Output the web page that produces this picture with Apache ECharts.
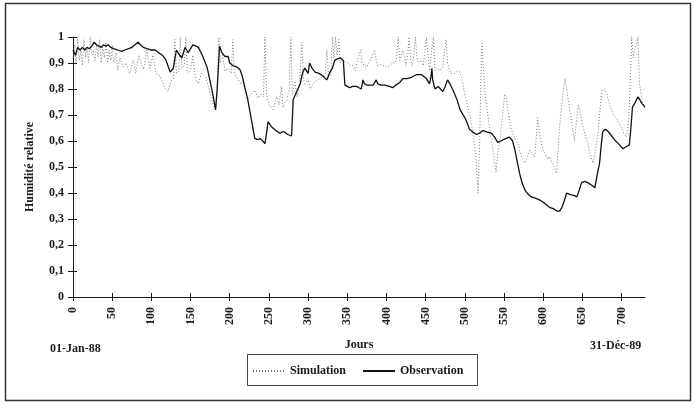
<!DOCTYPE html>
<html>
<head>
<meta charset="utf-8">
<script src="https://cdn.jsdelivr.net/npm/echarts@6/dist/echarts.min.js"></script>
<style>
  html, body { margin: 0; padding: 0; background: #fff; }
  #chart { width: 695px; height: 408px; }
</style>
</head>
<body>
<div id="chart"></div>
<script>
// jours de tick sur l'axe x
var xTicks = [0, 50, 100, 150, 200, 250, 300, 350, 400, 450, 500, 550, 600, 650, 700];

// Observation (trait plein)
var obsDays = [
  0, 3, 6, 9, 12, 15, 18, 21, 24, 27,
  30, 33, 36, 39, 42, 45, 48, 52, 57, 62,
  66, 71, 75, 79, 83, 86, 90, 94, 100, 105,
  109, 114, 118, 120, 124, 128, 132, 136, 139, 143,
  147, 150, 153, 157, 160, 165, 171, 175, 179, 182,
  184, 187, 190, 194, 198, 200, 204, 209, 213, 216,
  219, 223, 226, 229, 232, 236, 239, 242, 245, 247,
  249, 252, 255, 259, 264, 267, 270, 274, 279, 281,
  284, 287, 290, 292, 294, 296, 298, 300, 302, 305,
  309, 314, 319, 324, 326, 328, 331, 334, 337, 341,
  345, 347, 350, 353, 357, 362, 365, 368, 370, 372,
  375, 379, 383, 385, 387, 389, 393, 398, 404, 408,
  412, 417, 421, 426, 432, 438, 445, 451, 455, 457,
  458, 459, 462, 466, 469, 472, 475, 478, 481, 485,
  490, 494, 500, 503, 506, 510, 515, 519, 523, 528,
  534, 538, 542, 546, 549, 553, 557, 561, 564, 567,
  570, 573, 577, 581, 585, 590, 596, 602, 608, 613,
  618, 621, 624, 627, 630, 634, 640, 643, 646, 649,
  653, 657, 662, 666, 669, 672, 674, 676, 679, 682,
  686, 691, 696, 702, 707, 710, 712, 714, 717, 721,
  724, 726, 730
];
var obsValues = [
  0.95, 0.93, 0.96, 0.95, 0.96, 0.95, 0.96, 0.955, 0.965, 0.98,
  0.97, 0.965, 0.96, 0.97, 0.965, 0.97, 0.96, 0.955, 0.95, 0.945,
  0.95, 0.955, 0.96, 0.97, 0.98, 0.97, 0.96, 0.955, 0.95, 0.95,
  0.94, 0.93, 0.915, 0.9, 0.865, 0.88, 0.95, 0.93, 0.92, 0.96,
  0.94, 0.955, 0.97, 0.965, 0.96, 0.93, 0.885, 0.83, 0.77, 0.72,
  0.8, 0.965, 0.94, 0.925, 0.925, 0.9, 0.89, 0.885, 0.875, 0.85,
  0.81, 0.76, 0.71, 0.66, 0.61, 0.605, 0.61, 0.6, 0.59, 0.63,
  0.675, 0.66, 0.65, 0.64, 0.63, 0.635, 0.635, 0.625, 0.62, 0.76,
  0.78, 0.8, 0.82, 0.85, 0.87, 0.88, 0.87, 0.86, 0.9, 0.88,
  0.865, 0.86, 0.85, 0.835, 0.85, 0.865, 0.88, 0.91, 0.915, 0.92,
  0.91, 0.815, 0.81, 0.805, 0.81, 0.81, 0.805, 0.8, 0.835, 0.82,
  0.815, 0.815, 0.815, 0.82, 0.835, 0.82, 0.815, 0.815, 0.81, 0.805,
  0.815, 0.825, 0.84, 0.84, 0.845, 0.855, 0.855, 0.84, 0.82, 0.85,
  0.88, 0.835, 0.8, 0.81, 0.8, 0.79, 0.81, 0.835, 0.82, 0.795,
  0.76, 0.72, 0.69, 0.67, 0.645, 0.635, 0.625, 0.63, 0.64, 0.635,
  0.63, 0.615, 0.595, 0.6, 0.605, 0.61, 0.615, 0.6, 0.565, 0.52,
  0.475, 0.44, 0.41, 0.395, 0.385, 0.38, 0.373, 0.36, 0.345, 0.34,
  0.33, 0.33, 0.345, 0.37, 0.4, 0.395, 0.39, 0.385, 0.41, 0.44,
  0.445, 0.44, 0.43, 0.42, 0.47, 0.515, 0.58, 0.635, 0.645, 0.64,
  0.625, 0.605, 0.59, 0.57, 0.58, 0.585, 0.65, 0.73, 0.745, 0.77,
  0.755, 0.745, 0.73
];

// Simulation (pointillés)
var simDays = [
  0, 2, 4, 6, 8, 10, 12, 14, 16, 18,
  20, 22, 24, 26, 28, 30, 32, 34, 36, 38,
  40, 42, 44, 46, 48, 50, 52, 55, 57, 60,
  64, 68, 72, 77, 80, 84, 88, 90, 94, 98,
  102, 106, 111, 115, 118, 121, 125, 128, 130, 132,
  135, 137, 139, 142, 144, 146, 150, 153, 156, 160,
  164, 168, 172, 176, 180, 182, 184, 186, 188, 191,
  194, 198, 202, 204, 206, 210, 214, 217, 220, 223,
  227, 232, 236, 240, 243, 245, 247, 250, 255, 258,
  260, 263, 266, 268, 271, 273, 276, 278, 280, 283,
  286, 289, 292, 294, 296, 300, 303, 306, 310, 315,
  319, 322, 324, 326, 329, 331, 333, 335, 337, 339,
  341, 344, 347, 351, 354, 357, 360, 364, 367, 369,
  372, 375, 378, 381, 385, 387, 389, 392, 396, 400,
  404, 408, 411, 413, 415, 417, 419, 421, 423, 425,
  427, 429, 431, 433, 435, 437, 439, 441, 444, 447,
  449, 451, 453, 455, 457, 460, 462, 465, 468, 472,
  474, 476, 478, 480, 482, 487, 491, 494, 497, 500,
  504, 507, 509, 511, 513, 515, 517, 519, 521, 522,
  524, 526, 528, 530, 532, 534, 537, 540, 542, 545,
  547, 549, 551, 553, 555, 557, 559, 561, 564, 568,
  571, 574, 577, 580, 583, 586, 589, 591, 593, 595,
  597, 600, 603, 606, 608, 611, 614, 617, 619, 621,
  623, 626, 628, 630, 632, 634, 637, 640, 642, 645,
  647, 649, 651, 654, 657, 660, 662, 664, 666, 668,
  670, 672, 675, 678, 681, 684, 687, 690, 695, 700,
  703, 706, 708, 710, 712, 713, 715, 717, 719, 721,
  722, 723, 726, 730
];
var simValues = [
  0.92, 0.97, 0.9, 1.0, 0.91, 0.95, 0.89, 0.99, 0.92, 0.96,
  0.9, 1.0, 0.93, 0.95, 0.91, 0.97, 0.92, 0.99, 0.9, 0.96,
  0.92, 0.98, 0.9, 0.95, 0.91, 0.97, 0.9, 0.94, 0.87, 0.92,
  0.885, 0.9, 0.86, 0.91, 0.86, 0.93, 0.89, 0.875, 0.95, 0.88,
  0.93, 0.86, 0.85, 0.82, 0.8, 0.79, 0.83, 0.84, 0.99, 0.86,
  0.87, 1.0, 0.88, 0.89, 1.0, 0.86, 0.87, 0.93, 0.84, 0.82,
  0.86, 0.85, 0.82, 0.77, 0.73, 0.72, 0.8, 1.0, 0.9, 0.93,
  0.87, 0.88, 0.86, 0.99, 0.86, 0.84, 0.82, 0.83, 0.79, 0.76,
  0.78, 0.795, 0.765, 0.78, 0.77, 1.0, 0.78, 0.74, 0.72, 0.75,
  0.77, 0.74, 0.81, 0.73, 0.75, 0.76, 0.8, 1.0, 0.78, 0.83,
  0.77, 0.82, 0.98, 0.84, 0.82, 0.84, 0.8, 0.82, 0.83, 0.84,
  0.85, 0.86, 0.95, 0.86, 0.85, 1.0, 0.92, 1.0, 0.93, 0.99,
  0.9, 0.91, 0.905, 0.9, 0.89, 0.89, 0.87, 0.92, 0.95, 0.9,
  0.89, 0.885, 0.9, 0.92, 0.95, 0.91, 0.89, 0.895, 0.89, 0.885,
  0.89, 0.9, 0.9, 0.92, 1.0, 0.91, 0.93, 0.95, 0.92, 0.89,
  0.93, 1.0, 0.91, 0.89, 0.93, 1.0, 0.92, 0.9, 0.91, 0.89,
  0.94, 1.0, 0.93, 0.87, 0.93, 1.0, 0.87, 0.88, 0.87, 0.885,
  0.94, 0.99, 0.9, 0.88, 0.86, 0.86, 0.87, 0.865, 0.83, 0.78,
  0.73, 0.69, 0.655, 0.62, 0.58, 0.5, 0.4, 0.6, 0.9, 0.975,
  0.86, 0.78, 0.73, 0.69, 0.64, 0.6, 0.54, 0.48, 0.55, 0.6,
  0.67, 0.72, 0.78, 0.77, 0.72, 0.68, 0.65, 0.63, 0.61, 0.59,
  0.55, 0.53, 0.515, 0.54, 0.565, 0.55, 0.54, 0.6, 0.69, 0.64,
  0.6, 0.565, 0.55, 0.53, 0.54, 0.52, 0.5, 0.475, 0.56, 0.655,
  0.72, 0.8, 0.84, 0.8, 0.76, 0.72, 0.66, 0.6, 0.66, 0.74,
  0.72, 0.68, 0.655, 0.62, 0.59, 0.55, 0.53, 0.515, 0.55, 0.59,
  0.63, 0.7, 0.795, 0.8, 0.785, 0.75, 0.72, 0.7, 0.68, 0.65,
  0.63, 0.615, 0.65, 0.73, 0.9, 1.0, 0.92, 0.95, 0.97, 1.0,
  0.9, 0.82, 0.76, 0.72
];

function zip(a, b) {
  return a.map(function (d, i) { return [d, b[i]]; });
}

var serif = '"Liberation Serif", "Times New Roman", serif';
var ink = '#1a1a1a';

var chart = echarts.init(document.getElementById('chart'));

var option = {
  backgroundColor: '#fff',
  animation: false,
  grid: { left: 73, right: 50, top: 37, bottom: 111 },
  xAxis: [
    {
      type: 'value', min: 0, max: 730, interval: 50,
      splitLine: { show: false },
      axisLine: { show: true, lineStyle: { color: ink, width: 1 } },
      axisTick: { show: true, customValues: xTicks, length: 4, lineStyle: { color: ink, width: 1 } },
      axisLabel: {
        customValues: xTicks, rotate: 90, margin: 10,
        fontFamily: serif, fontWeight: 'bold', fontSize: 12, color: ink
      },
      name: 'Jours', nameLocation: 'middle', nameGap: 42,
      nameTextStyle: { fontFamily: serif, fontWeight: 'bold', fontSize: 12, color: ink }
    },
    {
      type: 'value', min: 0, max: 730, position: 'bottom',
      splitLine: { show: false }, axisLine: { show: false }, axisLabel: { show: false },
      axisTick: { show: true, customValues: xTicks, inside: true, length: 4, lineStyle: { color: ink, width: 1 } }
    }
  ],
  yAxis: [
    {
      type: 'value', min: 0, max: 1, interval: 0.1, position: 'left',
      splitLine: { show: false },
      axisLine: { show: true, lineStyle: { color: ink, width: 1 } },
      axisTick: { show: true, length: 5, lineStyle: { color: ink, width: 1 } },
      axisLabel: {
        margin: 9, fontFamily: serif, fontWeight: 'bold', fontSize: 12, color: ink,
        formatter: function (v) { return String(+v.toFixed(1)).replace('.', ','); }
      },
      name: 'Humidité relative', nameLocation: 'middle', nameGap: 37, nameRotate: 90,
      nameTextStyle: { fontFamily: serif, fontWeight: 'bold', fontSize: 12, color: ink }
    },
    {
      type: 'value', min: 0, max: 1, interval: 0.1, position: 'left', offset: 0,
      splitLine: { show: false }, axisLine: { show: false }, axisLabel: { show: false },
      axisTick: { show: true, inside: true, length: 4, lineStyle: { color: ink, width: 1 } }
    }
  ],
  legend: {
    left: 247, top: 360, itemWidth: 32, itemHeight: 10, itemGap: 16,
    itemStyle: { opacity: 0 },
    textStyle: { fontFamily: serif, fontWeight: 'bold', fontSize: 12, color: ink },
    data: ['Simulation', 'Observation']
  },
  series: [
    {
      name: 'Simulation', type: 'line', showSymbol: false, symbol: 'none',
      data: zip(simDays, simValues),
      lineStyle: { color: '#7a7a7a', width: 1, type: [1, 2] },
      itemStyle: { color: '#7a7a7a' },
      z: 2
    },
    {
      name: 'Observation', type: 'line', showSymbol: false, symbol: 'none',
      data: zip(obsDays, obsValues),
      lineStyle: { color: '#111', width: 1.3 },
      itemStyle: { color: '#111' },
      z: 3
    }
  ],
  graphic: [
    {
      type: 'rect', left: 3, top: 1, z: 0,
      shape: { width: 685, height: 397 },
      style: { fill: 'none', stroke: '#333', lineWidth: 1.5 }
    },
    {
      type: 'rect', left: 245, top: 352,
      shape: { width: 230, height: 31 },
      style: { fill: 'none', stroke: '#444', lineWidth: 1 }
    },
    {
      type: 'text', left: 50, top: 343,
      style: { text: '01-Jan-88', font: 'bold 12px ' + serif, fill: ink }
    },
    {
      type: 'text', left: 590, top: 340,
      style: { text: '31-Déc-89', font: 'bold 12px ' + serif, fill: ink }
    }
  ]
};

chart.setOption(option);
</script>
</body>
</html>
